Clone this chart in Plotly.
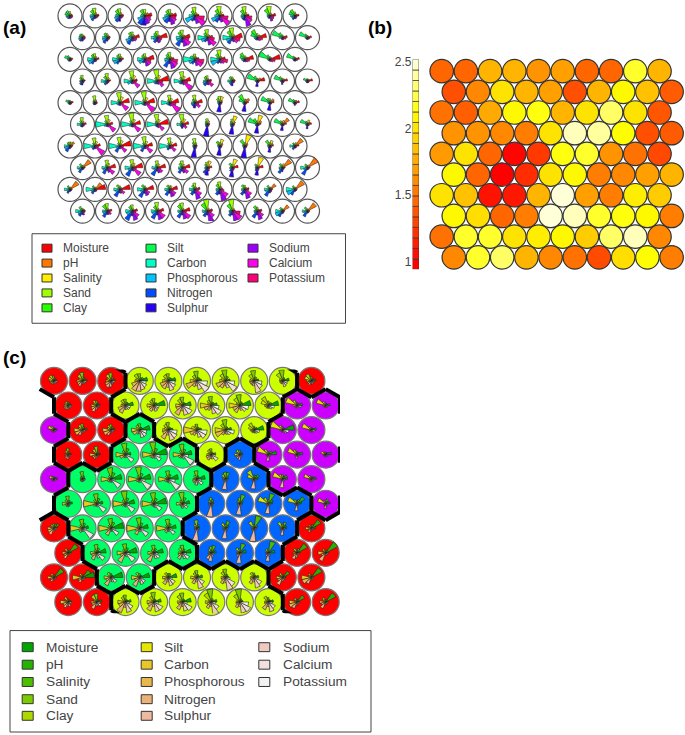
import numpy as np
import plotly.graph_objects as go

W, H = 685, 735

# variable names (same order as the wedges, counter-clockwise from east)
variables = ["Moisture", "pH", "Salinity", "Sand", "Clay", "Silt", "Carbon",
             "Phosphorous", "Nitrogen", "Sulphur", "Sodium", "Calcium", "Potassium"]
rainbow_cols = ["#FF0000", "#FF7600", "#FFEC00", "#9DFF00", "#27FF00", "#00FF4E", "#00FFC4",
                "#00C4FF", "#004EFF", "#2700FF", "#9D00FF", "#FF00EC", "#FF0076"]
terrain_cols = ["#00A600", "#24B300", "#4CBF00", "#7ACC00", "#ADD900", "#E6E600", "#E8C727",
                "#EAB64E", "#ECB176", "#EEB99F", "#F0C9C0", "#F2E0DC", "#F2F2F2"]

# codebook values, % of cell radius, top row first
codes_row1 = [
    [20, 18, 20, 35, 45, 42, 32, 28, 25, 20, 20, 20, 22],
    [32, 20, 28, 62, 50, 28, 40, 38, 42, 22, 20, 20, 25],
    [28, 20, 28, 58, 52, 32, 38, 45, 52, 42, 22, 20, 25],
    [55, 32, 25, 52, 55, 30, 35, 60, 78, 75, 65, 55, 45],
    [52, 28, 25, 52, 48, 30, 42, 60, 62, 45, 70, 58, 48],
    [32, 25, 28, 70, 45, 28, 48, 80, 45, 35, 62, 95, 75],
    [32, 22, 35, 80, 55, 32, 42, 70, 55, 35, 50, 90, 65],
    [32, 22, 30, 75, 52, 28, 32, 32, 32, 35, 85, 65, 55],
    [45, 18, 25, 80, 62, 25, 22, 22, 22, 20, 42, 35, 32],
    [32, 18, 20, 32, 55, 50, 35, 28, 32, 22, 22, 18, 18],
]
codes_row2 = [
    [22, 20, 20, 28, 32, 28, 28, 32, 32, 28, 22, 20, 22],
    [22, 18, 20, 32, 40, 28, 40, 42, 50, 28, 18, 18, 18],
    [55, 25, 25, 45, 45, 28, 32, 55, 60, 28, 28, 35, 35],
    [78, 25, 22, 50, 42, 32, 50, 35, 45, 32, 42, 35, 35],
    [60, 25, 22, 60, 50, 28, 50, 48, 75, 38, 70, 75, 52],
    [42, 25, 25, 65, 42, 28, 78, 52, 38, 25, 60, 80, 55],
    [78, 25, 28, 78, 60, 28, 78, 52, 55, 25, 35, 52, 62],
    [72, 28, 20, 32, 68, 55, 28, 22, 22, 18, 22, 32, 42],
    [38, 18, 15, 22, 42, 85, 28, 15, 15, 15, 18, 18, 28],
    [32, 15, 15, 18, 32, 70, 20, 15, 15, 15, 15, 15, 20],
]
codes_row3 = [
    [22, 15, 15, 18, 32, 45, 22, 18, 18, 15, 15, 15, 15],
    [32, 18, 25, 45, 42, 28, 60, 55, 42, 20, 18, 18, 18],
    [28, 18, 25, 42, 38, 28, 60, 55, 42, 22, 18, 18, 18],
    [72, 22, 22, 45, 38, 28, 60, 52, 32, 25, 55, 55, 48],
    [32, 22, 22, 55, 45, 32, 42, 42, 70, 35, 75, 70, 62],
    [32, 22, 22, 42, 32, 42, 95, 52, 42, 25, 52, 72, 72],
    [42, 22, 25, 75, 48, 28, 75, 75, 38, 25, 32, 42, 62],
    [68, 25, 18, 28, 55, 42, 28, 22, 22, 18, 22, 28, 38],
    [82, 18, 15, 22, 38, 92, 22, 15, 15, 15, 18, 28, 42],
    [35, 15, 15, 18, 28, 70, 18, 15, 15, 15, 15, 15, 22],
]
codes_row4 = [
    [22, 15, 20, 45, 32, 18, 22, 22, 32, 32, 18, 15, 15],
    [25, 15, 28, 60, 42, 18, 50, 32, 35, 22, 15, 15, 15],
    [38, 18, 45, 82, 32, 18, 68, 42, 22, 22, 22, 68, 32],
    [90, 20, 45, 90, 32, 18, 82, 32, 28, 22, 28, 58, 42],
    [65, 20, 40, 75, 32, 18, 68, 32, 28, 22, 32, 90, 42],
    [32, 18, 20, 42, 38, 22, 32, 38, 42, 28, 32, 55, 28],
    [22, 18, 20, 32, 38, 22, 38, 28, 32, 38, 18, 18, 18],
    [58, 32, 18, 22, 42, 85, 18, 15, 15, 45, 15, 15, 15],
    [40, 22, 18, 22, 38, 70, 18, 15, 15, 28, 15, 15, 15],
    [40, 18, 15, 18, 18, 35, 15, 15, 15, 15, 15, 15, 15],
]
codes_row5 = [
    [25, 15, 15, 18, 22, 35, 18, 15, 15, 15, 15, 15, 15],
    [18, 15, 25, 55, 22, 18, 15, 18, 18, 18, 15, 15, 18],
    [75, 18, 48, 82, 28, 18, 72, 28, 22, 22, 22, 78, 28],
    [78, 18, 42, 88, 28, 18, 82, 28, 22, 22, 22, 90, 38],
    [70, 18, 35, 60, 28, 18, 70, 28, 22, 22, 28, 92, 48],
    [58, 18, 25, 60, 32, 18, 28, 32, 32, 42, 28, 50, 32],
    [18, 25, 50, 50, 38, 22, 18, 18, 22, 75, 18, 15, 15],
    [28, 42, 28, 28, 70, 50, 18, 18, 18, 70, 15, 15, 15],
    [32, 38, 22, 32, 38, 75, 18, 15, 15, 62, 15, 15, 15],
    [35, 22, 18, 18, 28, 55, 18, 15, 15, 22, 15, 15, 15],
]
codes_row6 = [
    [30, 18, 25, 55, 32, 18, 42, 22, 22, 22, 18, 15, 18],
    [42, 18, 40, 72, 32, 18, 95, 28, 18, 18, 22, 75, 28],
    [65, 18, 42, 90, 32, 18, 88, 28, 18, 22, 22, 75, 28],
    [88, 18, 40, 80, 28, 18, 85, 22, 18, 22, 28, 62, 28],
    [50, 18, 45, 82, 28, 18, 45, 22, 22, 32, 22, 42, 28],
    [18, 18, 30, 45, 28, 18, 18, 18, 22, 95, 18, 15, 15],
    [18, 28, 68, 42, 28, 18, 18, 18, 22, 80, 18, 15, 15],
    [28, 38, 75, 28, 48, 78, 18, 18, 18, 72, 15, 15, 15],
    [32, 62, 32, 22, 32, 70, 18, 15, 15, 50, 15, 15, 15],
    [32, 22, 35, 18, 28, 60, 15, 15, 15, 35, 15, 15, 15],
]
codes_row7 = [
    [22, 42, 32, 32, 32, 22, 45, 45, 50, 22, 18, 15, 18],
    [42, 18, 38, 65, 28, 18, 88, 28, 32, 22, 22, 88, 28],
    [88, 18, 45, 70, 28, 18, 88, 32, 55, 22, 22, 62, 28],
    [60, 18, 40, 75, 28, 18, 92, 32, 50, 22, 22, 70, 28],
    [55, 18, 35, 65, 28, 18, 85, 28, 35, 22, 22, 55, 28],
    [18, 18, 28, 60, 32, 18, 18, 18, 22, 90, 22, 15, 15],
    [18, 28, 55, 28, 42, 22, 18, 18, 22, 75, 18, 15, 15],
    [18, 28, 92, 28, 55, 22, 18, 18, 22, 95, 18, 15, 15],
    [28, 28, 45, 28, 50, 22, 18, 18, 22, 50, 18, 15, 15],
    [32, 75, 28, 18, 28, 18, 42, 22, 32, 18, 15, 15, 15],
]
codes_row8 = [
    [22, 78, 22, 18, 35, 18, 42, 32, 45, 18, 15, 15, 15],
    [65, 18, 35, 60, 28, 18, 45, 38, 55, 22, 38, 65, 28],
    [82, 22, 38, 65, 28, 18, 60, 38, 75, 22, 28, 78, 32],
    [65, 18, 32, 55, 28, 18, 45, 32, 70, 28, 42, 48, 28],
    [60, 18, 30, 55, 40, 18, 32, 32, 50, 28, 42, 55, 28],
    [35, 22, 55, 45, 32, 18, 22, 22, 50, 60, 28, 18, 18],
    [45, 22, 70, 28, 40, 18, 22, 22, 32, 75, 22, 18, 15],
    [45, 22, 85, 22, 32, 18, 18, 18, 28, 60, 22, 15, 15],
    [22, 82, 32, 22, 35, 18, 28, 28, 50, 32, 18, 15, 15],
    [22, 95, 22, 18, 32, 18, 55, 32, 65, 18, 15, 15, 15],
]
codes_row9 = [
    [18, 80, 18, 18, 32, 18, 45, 28, 35, 18, 15, 15, 15],
    [85, 65, 18, 18, 32, 18, 72, 32, 40, 18, 18, 18, 18],
    [82, 18, 18, 28, 40, 18, 50, 38, 65, 28, 32, 45, 22],
    [70, 18, 18, 28, 40, 18, 60, 38, 70, 32, 50, 45, 22],
    [60, 18, 30, 28, 38, 18, 42, 32, 55, 32, 60, 55, 28],
    [40, 18, 22, 50, 38, 18, 45, 32, 50, 32, 80, 60, 28],
    [22, 18, 25, 60, 45, 18, 32, 32, 50, 38, 92, 75, 32],
    [32, 18, 18, 32, 40, 18, 28, 28, 50, 32, 75, 60, 28],
    [22, 55, 18, 18, 35, 18, 45, 38, 60, 28, 22, 18, 15],
    [18, 85, 18, 18, 32, 18, 70, 68, 50, 18, 15, 15, 15],
]
codes_row10 = [
    [22, 18, 18, 22, 40, 22, 55, 38, 45, 28, 32, 18, 22],
    [35, 18, 20, 60, 55, 22, 40, 38, 55, 28, 28, 35, 22],
    [40, 18, 20, 50, 42, 22, 55, 50, 82, 38, 75, 60, 28],
    [50, 18, 22, 70, 45, 22, 50, 45, 70, 32, 70, 70, 32],
    [60, 18, 22, 65, 55, 22, 38, 32, 60, 32, 65, 75, 32],
    [40, 18, 25, 92, 70, 22, 42, 32, 50, 32, 92, 62, 32],
    [22, 18, 25, 92, 60, 22, 28, 28, 45, 32, 80, 85, 62],
    [35, 18, 18, 32, 45, 22, 28, 28, 60, 32, 70, 55, 28],
    [18, 60, 18, 18, 32, 18, 55, 60, 50, 22, 18, 15, 15],
    [18, 80, 18, 18, 35, 18, 42, 32, 50, 18, 15, 15, 15],
]
codes = [codes_row1, codes_row2, codes_row3, codes_row4, codes_row5,
         codes_row6, codes_row7, codes_row8, codes_row9, codes_row10]

# neighbour distance per cell, panel (b)
dist_rows = [
    [1.45, 1.45, 1.80, 1.80, 1.65, 1.70, 1.45, 1.45, 2.20, 1.80],
    [1.35, 1.60, 2.00, 1.80, 1.70, 1.35, 1.80, 2.10, 1.85, 1.40],
    [1.50, 1.42, 1.75, 2.10, 2.15, 1.80, 2.00, 2.30, 2.00, 1.38],
    [1.65, 1.65, 1.60, 1.55, 2.00, 2.45, 2.40, 2.12, 1.35, 1.40],
    [1.68, 2.00, 1.45, 1.02, 1.25, 2.15, 2.20, 1.65, 1.50, 1.32],
    [2.10, 1.45, 1.00, 1.20, 2.00, 2.10, 1.55, 1.60, 1.70, 1.80],
    [2.00, 1.85, 1.08, 1.10, 1.80, 2.50, 1.70, 1.55, 2.05, 1.90],
    [2.10, 1.98, 1.45, 1.55, 2.50, 2.45, 2.20, 2.15, 2.10, 1.55],
    [1.50, 2.20, 2.20, 2.00, 2.05, 2.10, 1.90, 2.30, 2.45, 1.60],
    [1.60, 2.20, 2.30, 1.80, 1.60, 1.50, 1.33, 1.98, 2.12, 1.55],
]
heat_scale = [[0, "#FF0000"], [0.75, "#FFFF00"], [1, "#FFFFD8"]]
key_ticks = [1, 1.5, 2, 2.5]
key_breaks = np.linspace(0.94, 2.52, 21)

# cluster per cell, panel (c)
cluster_rows = ["RRRLLLLLLR", "RRLLLLLLPP", "PRRGLLLLPP", "RRGGGLBPPP", "PGGGGGBBPP",
                "GGGGGBBBBP", "RGGGGBBBBR", "RGGGGBBBRR", "RRGGLLLLRR", "RRLLLLLLRR"]
cluster_cols = {"R": "#FF0000", "L": "#CCFF00", "G": "#00FF66", "B": "#0066FF", "P": "#CC00FF"}
# short boundary pieces that stick out at the map edge: row, column, hexagon side
edge_stubs = [(0, 2, "NE"), (0, 8, "NE"), (0, 0, "SW"), (1, 0, "W"), (1, 9, "NE"), (1, 9, "E"),
              (3, 0, "W"), (3, 9, "E"), (5, 0, "W"), (5, 9, "E"), (5, 9, "SE"), (6, 0, "NW"),
              (9, 2, "SW"), (9, 8, "SW")]

# where each panel sits on the page: first cell centre and spacing, px
panel_a = dict(x0=70, y0=12, dx=25.0, dy=21.8, size=24)
panel_b = dict(x0=441.7, y0=67.5, dx=24.2, dy=20.8, size=23.5)
panel_c = dict(x0=54, y0=379, dx=28.6, dy=24.7, size=27)
STAR_SCALE = 1.05

ROW_H = np.sqrt(3) / 2
PAD = 0.4
SIDES = {"E": -30, "NE": 30, "NW": 90, "W": 150, "SW": 210, "SE": 270}


def cell_xy(r, c):
    return c + 0.5 * (r % 2), (9 - r) * ROW_H


def px(x):
    return x / W


def py(y):
    return 1 - y / H


fig = go.Figure()


def add_axes(n, p):
    # one hex unit = dx on the page, so set domain and range together
    uy = p["dy"] / ROW_H
    ax = dict(visible=False, fixedrange=True)
    fig.update_layout({
        f"xaxis{n}": dict(ax, domain=[px(p["x0"] - 0.7 * p["dx"]), px(p["x0"] + 10 * p["dx"])], range=[-0.7, 10],
                          anchor=f"y{n}"),
        f"yaxis{n}": dict(ax, domain=[py(p["y0"] + 9 * p["dy"] + PAD * uy), py(p["y0"] - PAD * uy)],
                          range=[-PAD, 9 * ROW_H + PAD], anchor=f"x{n}"),
    })


def add_cells(n, p, colors, line="#555555", lw=1.2, **marker):
    xs, ys = zip(*[cell_xy(r, c) for r in range(10) for c in range(10)])
    fig.add_trace(go.Scatter(x=xs, y=ys, mode="markers", xaxis=f"x{n}", yaxis=f"y{n}", showlegend=False,
                             hoverinfo="skip", cliponaxis=False,
                             marker=dict(size=p["size"], color=colors, line=dict(color=line, width=lw), **marker)))


def add_stars(n, p, cols, lw):
    step = 2 * np.pi / len(variables)
    rad = STAR_SCALE * p["size"] / p["dx"] / 2
    for k, name in enumerate(variables):
        xs, ys = [], []
        for r in range(10):
            for c in range(10):
                cx, cy = cell_xy(r, c)
                v = codes[r][c][k] / 100 * rad
                th = np.linspace(k * step, (k + 1) * step, 6)
                xs += [cx] + list(cx + v * np.cos(th)) + [cx, None]
                ys += [cy] + list(cy + v * np.sin(th)) + [cy, None]
        fig.add_trace(go.Scatter(x=xs, y=ys, mode="lines", fill="toself", fillcolor=cols[k], name=name,
                                 line=dict(color="#222222", width=lw), xaxis=f"x{n}", yaxis=f"y{n}",
                                 showlegend=False, hoverinfo="skip", cliponaxis=False))


def side_edge(r, c, side):
    cx, cy = cell_xy(r, c)
    a = np.radians(SIDES[side])
    b = a + np.pi / 3
    R = 1 / np.sqrt(3)
    return [cx + R * np.cos(a), cx + R * np.cos(b), None], [cy + R * np.sin(a), cy + R * np.sin(b), None]


def add_boundaries(n):
    xs, ys = [], []
    for r in range(10):
        for c in range(10):
            here = cluster_rows[r][c]
            nbrs = [("E", r, c + 1)]
            if r < 9:
                nbrs += [("SE", r + 1, c + r % 2), ("SW", r + 1, c + r % 2 - 1)]
            for side, r2, c2 in nbrs:
                if 0 <= c2 < 10 and cluster_rows[r2][c2] != here:
                    ex, ey = side_edge(r, c, side)
                    xs += ex
                    ys += ey
    for r, c, side in edge_stubs:
        ex, ey = side_edge(r, c, side)
        xs += ex
        ys += ey
    fig.add_trace(go.Scatter(x=xs, y=ys, mode="lines", line=dict(color="black", width=4), xaxis=f"x{n}",
                             yaxis=f"y{n}", showlegend=False, hoverinfo="skip", cliponaxis=False))


def add_legend(box, marks, texts, rows, cols, swatch, font_size):
    fig.add_shape(type="rect", xref="paper", yref="paper", x0=px(box[0]), x1=px(box[2]), y0=py(box[3]), y1=py(box[1]),
                  line=dict(color="#444444", width=1), fillcolor="white")
    for i, name in enumerate(variables):
        x_mark, x_text = marks[i // 5], texts[i // 5]
        y = rows[i % 5]
        fig.add_shape(type="rect", xref="paper", yref="paper", fillcolor=cols[i],
                      x0=px(x_mark - swatch[0] / 2), x1=px(x_mark + swatch[0] / 2),
                      y0=py(y + swatch[1] / 2), y1=py(y - swatch[1] / 2), line=dict(color="#333333", width=1))
        fig.add_annotation(text=name, xref="paper", yref="paper", x=px(x_text), y=py(y), showarrow=False,
                           xanchor="left", yanchor="middle", xshift=-2, font=dict(size=font_size, color="#444444"))


# panel (a)
add_axes(1, panel_a)
add_cells(1, panel_a, "white")
add_stars(1, panel_a, rainbow_cols, 0.5)

# panel (b)
add_axes(2, panel_b)
dist_flat = [v for row in dist_rows for v in row]
add_cells(2, panel_b, dist_flat, line="#333333", colorscale=heat_scale, cmin=1, cmax=2.5)

# colour key of panel (b), a real axis with stacked bars
key_mid = (key_breaks[:-1] + key_breaks[1:]) / 2
fig.add_trace(go.Bar(x=[0] * len(key_mid), y=np.diff(key_breaks), base=key_breaks[:-1], width=1, xaxis="x4", yaxis="y4",
                     showlegend=False, hoverinfo="skip",
                     marker=dict(color=key_mid, colorscale=heat_scale, cmin=1, cmax=2.5,
                                 line=dict(color="#333333", width=0.7))))
fig.update_layout(
    xaxis4=dict(visible=False, domain=[px(412.5), px(419)], range=[-0.5, 0.5], anchor="y4", fixedrange=True),
    yaxis4=dict(domain=[py(266.8), py(55.8)], range=[0.94, 2.52], anchor="x4", tickvals=key_ticks,
                ticktext=["1", "1.5", "2", "2.5"], showgrid=False, zeroline=False, showline=False, ticks="",
                fixedrange=True, tickfont=dict(size=12, color="#444444")),
)

# panel (c)
add_axes(3, panel_c)
add_cells(3, panel_c, [cluster_cols[ch] for row in cluster_rows for ch in row], line="#777777")
add_stars(3, panel_c, terrain_cols, 0.6)
add_boundaries(3)

# legends
add_legend((32, 231, 345.5, 321), (47, 151, 253), (62.7, 166.7, 269.3), (245.5, 260.5, 275.5, 290.5, 305.5),
           rainbow_cols, (10, 8), 12)
add_legend((10, 630, 371, 732), (27.7, 146.7, 264.3), (46, 164.3, 282.7), (646.7, 664.3, 681.7, 699, 715.7),
           terrain_cols, (11, 9), 13.7)

# panel letters
for label, x, y in [("(a)", 1, 24), ("(b)", 366, 24), ("(c)", 1, 355)]:
    fig.add_annotation(text=f"<b>{label}</b>", xref="paper", yref="paper", x=px(x), y=py(y), showarrow=False,
                       xanchor="left", yanchor="middle", font=dict(size=19, color="black"))

fig.update_layout(width=W, height=H, margin=dict(l=0, r=0, t=0, b=0), paper_bgcolor="white", plot_bgcolor="white",
                  font=dict(family="Liberation Sans, Arial, sans-serif"), barmode="overlay")

fig.write_html("out.html", post_script="document.body.style.margin='0';", config=dict(displayModeBar=False))
